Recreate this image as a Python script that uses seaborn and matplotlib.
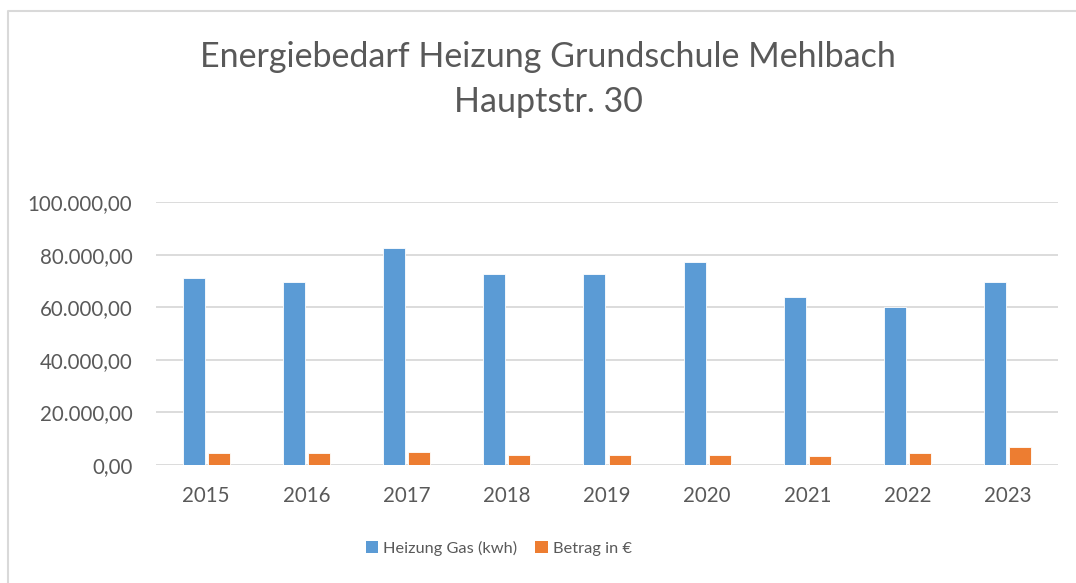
import matplotlib
matplotlib.use("Agg")
import matplotlib.pyplot as plt
import seaborn as sns
import pandas as pd
from matplotlib.ticker import FuncFormatter
from matplotlib.lines import Line2D
from matplotlib.patches import Patch

years = ["2015", "2016", "2017", "2018", "2019", "2020", "2021", "2022", "2023"]
gas_kwh = [71100, 69700, 82500, 72700, 72700, 77100, 63900, 60000, 69700]
betrag_eur = [4450, 4450, 5050, 3800, 3800, 3800, 3400, 4450, 6850]
series_names = ["Heizung Gas (kwh)", "Betrag in €"]
colors = ["#5B9BD5", "#ED7D31"]
title_lines = ["Energiebedarf Heizung Grundschule Mehlbach", "Hauptstr. 30"]

df = pd.DataFrame({
    "Jahr": years + years,
    "Wert": gas_kwh + betrag_eur,
    "Reihe": [series_names[0]] * len(years) + [series_names[1]] * len(years),
})

sns.set_theme(style="white")
plt.rcParams['font.family'] = ['Lato', 'DejaVu Sans']

W, H = 1076, 583
fig = plt.figure(figsize=(W / 100, H / 100), dpi=100)
fig.patch.set_facecolor("white")
ax = fig.add_axes([156 / W, 1 - 465 / H, (1058 - 156) / W, (465 - 202) / H])

sns.barplot(data=df, x="Jahr", y="Wert", hue="Reihe", palette=colors,
            saturation=1, width=0.5, gap=0.12, ax=ax, edgecolor="white",
            linewidth=0.6, errorbar=None)

ax.set_ylim(0, 100000)
ax.set_xlim(-0.5, len(years) - 0.5)
ax.set_yticks(range(0, 100001, 20000))


def de_fmt(v, pos):
    s = f"{v:,.2f}"
    return s.replace(",", "X").replace(".", ",").replace("X", ".")


ax.yaxis.set_major_formatter(FuncFormatter(de_fmt))
ax.grid(axis='y', color='#D9D9D9', lw=1.3)
ax.grid(axis='x', visible=False)
ax.set_axisbelow(True)
for s in ax.spines.values():
    s.set_visible(False)
ax.set_xlabel("")
ax.set_ylabel("")
ax.tick_params(axis='y', length=0, labelsize=14.8, colors='#595959', pad=17)
ax.tick_params(axis='x', length=0, labelsize=14.8, colors='#595959', pad=15)

if ax.get_legend() is not None:
    ax.get_legend().remove()
handles = [Patch(facecolor=c, edgecolor='none') for c in colors]
fig.legend(handles, series_names, loc='center left',
           bbox_to_anchor=(366 / W, 1 - 548 / H), ncol=2, frameon=False,
           handlelength=0.75, handleheight=0.75, handletextpad=0.3,
           columnspacing=1.1, fontsize=11.8, labelcolor='#595959',
           borderaxespad=0, borderpad=0)

fig.text(548 / W, 1 - 67 / H, title_lines[0], ha='center', va='baseline',
         fontsize=24.5, color='#595959')
fig.text(548 / W, 1 - 112 / H, title_lines[1], ha='center', va='baseline',
         fontsize=24.5, color='#595959')

fig.add_artist(Line2D([8 / W, 8 / W, 1.0], [0.0, 1 - 11 / H, 1 - 11 / H],
                      transform=fig.transFigure, color='#D9D9D9', lw=1.5))

fig.savefig("out.png", dpi=100)
